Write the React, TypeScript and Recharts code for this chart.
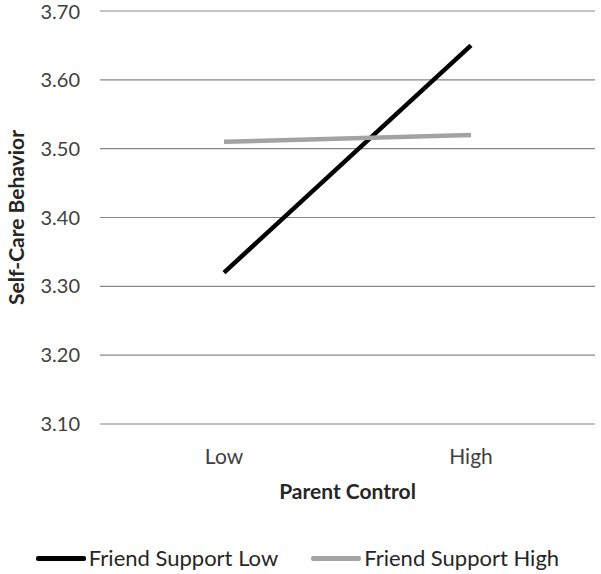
import React from 'react';
import {
  LineChart,
  Line,
  XAxis,
  YAxis,
  CartesianGrid,
  Legend
} from 'recharts';

const categories = ['Low', 'High'];
const friendSupportLow = [3.32, 3.65];
const friendSupportHigh = [3.51, 3.52];
const yTicks = [3.1, 3.2, 3.3, 3.4, 3.5, 3.6, 3.7];

const FONT = 'Lato, "Open Sans", sans-serif';

const data = categories.map((cat, i) => ({
  cat,
  low: friendSupportLow[i],
  high: friendSupportHigh[i],
}));

// legend drawn like the Excel one: thick line swatch + label
const LegendContent = (props: any) => {
  const { payload } = props;
  return (
    <div style={{ display: 'flex', justifyContent: 'center', alignItems: 'center', height: 24, lineHeight: '24px', fontFamily: FONT, fontSize: 22, color: '#262626' }}>
      {(payload || []).map((entry: any, i: number) => (
        <div key={i} style={{ display: 'flex', alignItems: 'center', marginLeft: i > 0 ? 33 : 0 }}>
          <span style={{ display: 'inline-block', width: 50, height: 5, borderRadius: 2, background: entry.color, marginRight: 3 }} />
          <span>{entry.value}</span>
        </div>
      ))}
    </div>
  );
};

const App: React.FC = () => {
  return (
    <div style={{ position: 'absolute', left: 0, top: 0, background: '#fff' }}>
      <LineChart width={601} height={574} data={data} margin={{ top: 11, right: 6, bottom: 4, left: 0 }}>
        <CartesianGrid vertical={false} stroke="#878787" strokeWidth={1.2} />
        <XAxis
          dataKey="cat"
          padding={{ left: 124, right: 124 }}
          axisLine={false}
          tickLine={false}
          tickSize={0}
          tickMargin={25}
          height={122}
          tick={{ fill: '#404040', fontSize: 21, fontFamily: FONT }}
          label={{ value: 'Parent Control', position: 'insideTop', offset: 60, fill: '#262626', fontSize: 21, fontWeight: 700, fontFamily: FONT }}
        />
        <YAxis
          domain={[3.1, 3.7]}
          ticks={yTicks}
          tickFormatter={(v: number) => v.toFixed(2)}
          width={100}
          axisLine={false}
          tickLine={false}
          tickSize={0}
          tickMargin={20}
          tick={{ fill: '#404040', fontSize: 20, fontFamily: FONT }}
          label={{ value: 'Self-Care Behavior', angle: -90, position: 'insideLeft', offset: 17, fill: '#262626', fontSize: 21, fontWeight: 700, fontFamily: FONT, style: { textAnchor: 'middle' } }}
        />
        <Legend verticalAlign="bottom" itemSorter={null} content={<LegendContent />} />
        <Line
          type="linear"
          dataKey="low"
          name="Friend Support Low"
          stroke="#000000"
          strokeWidth={4.5}
          dot={false}
          isAnimationActive={false}
        />
        <Line
          type="linear"
          dataKey="high"
          name="Friend Support High"
          stroke="#a3a3a3"
          strokeWidth={4.5}
          dot={false}
          isAnimationActive={false}
        />
      </LineChart>
    </div>
  );
};

export default App;
